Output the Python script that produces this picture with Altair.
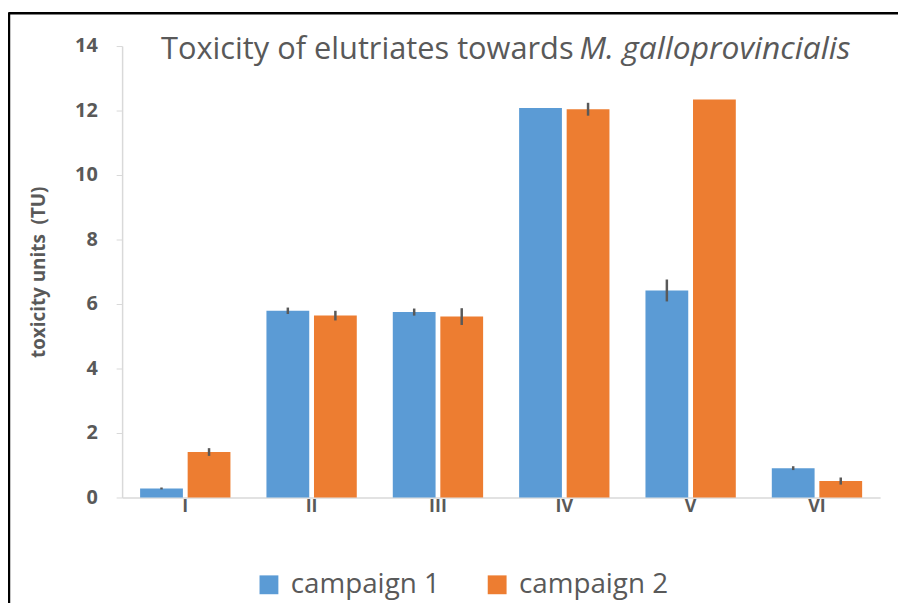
import altair as alt
import pandas as pd

categories = ["I", "II", "III", "IV", "V", "VI"]
campaigns = ["campaign 1", "campaign 2"]
values_c1 = [0.28, 5.79, 5.75, 12.08, 6.42, 0.91]
errors_c1 = [0.03, 0.10, 0.11, 0.0, 0.34, 0.06]
values_c2 = [1.41, 5.64, 5.61, 12.04, 12.34, 0.51]
errors_c2 = [0.12, 0.15, 0.26, 0.20, 0.0, 0.11]
colors = ["#5B9BD5", "#ED7D31"]
y_ticks = [0, 2, 4, 6, 8, 10, 12, 14]

rows = []
for camp, vals, errs in [(campaigns[0], values_c1, errors_c1), (campaigns[1], values_c2, errors_c2)]:
    for c, v, e in zip(categories, vals, errs):
        rows.append({"cat": c, "campaign": camp, "value": v, "lo": v - e, "hi": v + e, "err": e})
df = pd.DataFrame(rows)

FONT = "Open Sans"
GRAY = "#595959"

x_enc = alt.X("cat:N", sort=categories,
              scale=alt.Scale(paddingInner=0.285, paddingOuter=0.1425),
              axis=alt.Axis(title=None, labelAngle=0, ticks=False, labelFont=FONT,
                            labelFontSize=18, labelFontWeight="bold", labelColor=GRAY,
                            labelPadding=0, domainColor="#d9d9d9", domainWidth=1.5))
xoff = alt.XOffset("campaign:N", sort=campaigns, scale=alt.Scale(paddingInner=0.1))

bars = alt.Chart(df).mark_bar().encode(
    x=x_enc,
    xOffset=xoff,
    y=alt.Y("value:Q", scale=alt.Scale(domain=[0, 14], nice=False),
            axis=alt.Axis(values=y_ticks, grid=False, title="toxicity units\u00a0\u00a0(TU)",
                          titleFont=FONT, titleFontSize=19, titleFontWeight="bold",
                          titleColor=GRAY, titlePadding=26,
                          labelFont=FONT, labelFontSize=20, labelFontWeight="bold",
                          labelColor=GRAY, labelPadding=19, tickSize=6,
                          tickColor="#d9d9d9", domainColor="#d9d9d9", domainWidth=1.5)),
    color=alt.Color("campaign:N", sort=campaigns,
                    scale=alt.Scale(domain=campaigns, range=colors),
                    legend=alt.Legend(title=None, orient="none", direction="horizontal",
                                      legendX=134, legendY=529, symbolType="square",
                                      symbolSize=361, symbolStrokeWidth=0,
                                      labelFont=FONT, labelFontSize=28, labelColor=GRAY,
                                      labelOffset=8, columnPadding=43, symbolOpacity=1)),
)

errbars = alt.Chart(df[df["err"] > 0]).mark_rule(color="#595959", strokeWidth=2.5).encode(
    x=alt.X("cat:N", sort=categories),
    xOffset=alt.XOffset("campaign:N", sort=campaigns),
    y="lo:Q",
    y2="hi:Q",
)

title_reg = alt.Chart(pd.DataFrame({"t": ["Toxicity of elutriates towards"]})).mark_text(
    font=FONT, fontSize=31, color=GRAY, align="right", baseline="alphabetic"
).encode(text="t:N", x=alt.value(455), y=alt.value(13))

title_it = alt.Chart(pd.DataFrame({"t": ["M. galloprovincialis"]})).mark_text(
    font=FONT, fontSize=32, color=GRAY, align="left", baseline="alphabetic", fontStyle="italic"
).encode(text="t:N", x=alt.value(461), y=alt.value(13))

border_top = alt.Chart(pd.DataFrame({"a": [0]})).mark_rule(color="black", strokeWidth=2.5).encode(
    x=alt.value(-114), x2=alt.value(800), y=alt.value(-33))
border_left = alt.Chart(pd.DataFrame({"a": [0]})).mark_rule(color="black", strokeWidth=2.5).encode(
    x=alt.value(-114), y=alt.value(-34), y2=alt.value(600))

chart = alt.layer(bars, errbars, title_reg, title_it, border_top, border_left).properties(
    width=764, height=455,
    autosize=alt.AutoSizeParams(type="none"),
    padding={"left": 115, "top": 36, "right": 18, "bottom": 104},
    background="white",
).configure_view(stroke=None)

chart.save("out.html", embed_options={"renderer": "svg", "actions": False})
